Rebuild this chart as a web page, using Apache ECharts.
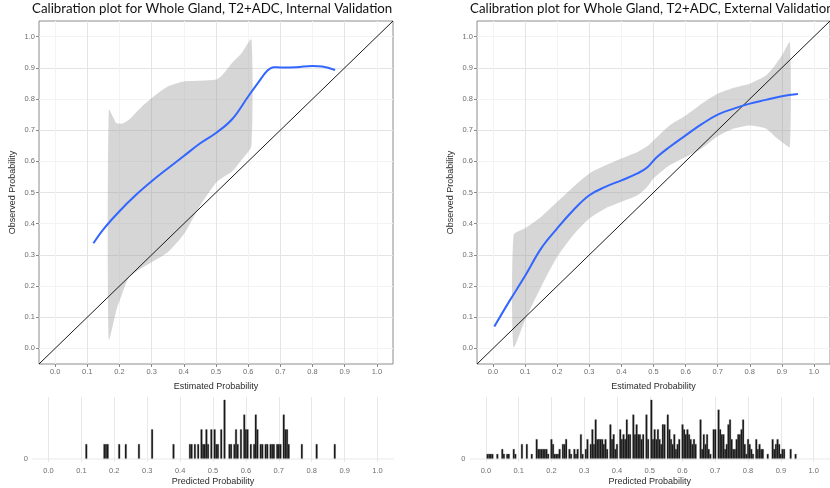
<!DOCTYPE html>
<html>
<head>
<meta charset="utf-8">
<script src="https://cdn.jsdelivr.net/npm/echarts@6/dist/echarts.min.js"></script>
<style>
  html, body { margin: 0; padding: 0; background: #fff; }
  #chart { width: 830px; height: 488px; }
</style>
</head>
<body>
<div id="chart"></div>
<script>
// tick labels shared by all panels
var probTicks = [0, 0.1, 0.2, 0.3, 0.4, 0.5, 0.6, 0.7, 0.8, 0.9, 1.0];
var refLine = [[-0.05, -0.05], [1.05, 1.05]];

// internal validation: smoothed calibration curve + confidence band
var intCurveX = [0.119, 0.15, 0.2, 0.25, 0.3, 0.35, 0.4, 0.45, 0.5, 0.55, 0.6, 0.63, 0.66, 0.68, 0.7, 0.75, 0.8, 0.83, 0.87];
var intCurveY = [0.337, 0.382, 0.44, 0.491, 0.536, 0.577, 0.617, 0.657, 0.691, 0.735, 0.808, 0.851, 0.891, 0.902, 0.901, 0.902, 0.906, 0.904, 0.893];
var intBandX = [0.167, 0.19, 0.21, 0.23, 0.27, 0.3, 0.35, 0.4, 0.45, 0.5, 0.52, 0.55, 0.58, 0.61];
var intBandLo = [0.028, 0.121, 0.18, 0.228, 0.258, 0.276, 0.308, 0.366, 0.457, 0.531, 0.547, 0.567, 0.605, 0.649];
var intBandHi = [0.766, 0.723, 0.721, 0.734, 0.776, 0.803, 0.84, 0.856, 0.858, 0.862, 0.877, 0.915, 0.947, 0.991];

// external validation
var extCurveX = [0.004, 0.05, 0.1, 0.15, 0.2, 0.25, 0.3, 0.35, 0.4, 0.45, 0.48, 0.51, 0.55, 0.6, 0.65, 0.7, 0.75, 0.8, 0.85, 0.9, 0.95];
var extCurveY = [0.07, 0.15, 0.233, 0.321, 0.385, 0.443, 0.491, 0.518, 0.539, 0.561, 0.58, 0.613, 0.646, 0.683, 0.719, 0.75, 0.769, 0.785, 0.797, 0.809, 0.816];
var extBandX = [0.064, 0.1, 0.15, 0.2, 0.25, 0.3, 0.35, 0.4, 0.45, 0.48, 0.5, 0.55, 0.6, 0.65, 0.7, 0.75, 0.8, 0.85, 0.88, 0.9, 0.925];
var extBandLo = [0.004, 0.092, 0.198, 0.294, 0.364, 0.417, 0.449, 0.47, 0.491, 0.518, 0.545, 0.587, 0.614, 0.641, 0.68, 0.705, 0.715, 0.705, 0.678, 0.662, 0.646];
var extBandHi = [0.364, 0.385, 0.422, 0.47, 0.518, 0.561, 0.587, 0.609, 0.63, 0.648, 0.667, 0.715, 0.747, 0.785, 0.817, 0.836, 0.849, 0.875, 0.91, 0.939, 0.982];

// histograms of predicted probability (bin centre, count), bin width 0.005
var binWidth = 0.005;
var intHistBins = [0.115, 0.17, 0.175, 0.18, 0.215, 0.235, 0.275, 0.315, 0.38, 0.43, 0.435, 0.445, 0.455, 0.465, 0.47, 0.475, 0.48, 0.485, 0.495, 0.505, 0.51, 0.515, 0.525, 0.535, 0.55, 0.555, 0.565, 0.57, 0.575, 0.585, 0.595, 0.6, 0.605, 0.615, 0.625, 0.63, 0.635, 0.645, 0.65, 0.66, 0.665, 0.675, 0.68, 0.685, 0.695, 0.7, 0.705, 0.715, 0.72, 0.725, 0.73, 0.77, 0.815, 0.87];
var intHistCounts = [1, 1, 1, 1, 1, 1, 1, 2, 1, 1, 1, 1, 1, 2, 1, 1, 2, 1, 2, 2, 1, 1, 2, 4, 1, 1, 1, 2, 1, 2, 3, 2, 2, 1, 1, 3, 2, 1, 1, 1, 1, 1, 1, 1, 1, 1, 1, 3, 2, 2, 1, 1, 1, 1];
var extHistBins = [0.005, 0.01, 0.015, 0.02, 0.035, 0.05, 0.055, 0.065, 0.07, 0.085, 0.09, 0.11, 0.125, 0.14, 0.155, 0.16, 0.165, 0.17, 0.175, 0.18, 0.185, 0.19, 0.2, 0.205, 0.21, 0.215, 0.22, 0.225, 0.235, 0.24, 0.245, 0.255, 0.26, 0.27, 0.275, 0.28, 0.29, 0.295, 0.305, 0.31, 0.32, 0.325, 0.33, 0.335, 0.34, 0.345, 0.35, 0.355, 0.36, 0.365, 0.37, 0.38, 0.385, 0.39, 0.395, 0.4, 0.41, 0.415, 0.42, 0.425, 0.43, 0.435, 0.44, 0.45, 0.455, 0.46, 0.465, 0.47, 0.475, 0.48, 0.49, 0.495, 0.505, 0.51, 0.515, 0.52, 0.525, 0.53, 0.535, 0.54, 0.545, 0.555, 0.56, 0.565, 0.57, 0.575, 0.58, 0.585, 0.59, 0.6, 0.605, 0.61, 0.615, 0.62, 0.625, 0.63, 0.635, 0.64, 0.655, 0.66, 0.665, 0.67, 0.675, 0.68, 0.685, 0.695, 0.7, 0.71, 0.715, 0.72, 0.725, 0.73, 0.735, 0.74, 0.745, 0.75, 0.755, 0.76, 0.765, 0.77, 0.775, 0.78, 0.785, 0.79, 0.795, 0.8, 0.805, 0.81, 0.815, 0.825, 0.83, 0.835, 0.84, 0.845, 0.86, 0.875, 0.88, 0.885, 0.89, 0.895, 0.9, 0.905, 0.91, 0.93, 0.945];
var extHistCounts = [1, 1, 1, 1, 1, 2, 1, 1, 1, 2, 1, 3, 3, 1, 4, 2, 2, 2, 2, 2, 2, 1, 4, 3, 1, 1, 1, 2, 3, 3, 4, 2, 1, 2, 1, 2, 5, 1, 2, 4, 3, 6, 3, 8, 4, 4, 4, 4, 3, 4, 2, 7, 4, 5, 2, 3, 6, 4, 5, 4, 8, 5, 5, 9, 5, 7, 5, 5, 4, 5, 9, 4, 12, 4, 6, 4, 6, 4, 3, 7, 7, 9, 6, 4, 3, 5, 2, 3, 4, 7, 6, 5, 6, 5, 4, 3, 4, 3, 8, 2, 5, 3, 5, 2, 1, 6, 6, 10, 6, 5, 5, 2, 3, 7, 8, 4, 2, 2, 4, 5, 5, 6, 8, 3, 1, 4, 3, 2, 1, 4, 2, 3, 2, 2, 1, 4, 2, 3, 4, 3, 1, 2, 2, 2, 1];

function zip(xs, ys) {
    return xs.map(function (x, i) { return [x, ys[i]]; });
}
function fmtTick(v) {
    return v.toFixed(1);
}

var tickFont = { fontFamily: 'Liberation Sans', fontSize: 7.5, color: '#6e6e6e' };
var nameFont = { fontFamily: 'Liberation Sans', fontSize: 9, color: '#2b2b2b' };

function mainX(gi) {
    return {
        type: 'value', gridIndex: gi, min: -0.05, max: 1.05, interval: 0.05,
        name: 'Estimated Probability', nameLocation: 'middle', nameGap: 18, nameTextStyle: nameFont,
        axisLine: { show: false, onZero: false },
        axisTick: { show: true, customValues: probTicks, length: 3, lineStyle: { color: '#888' } },
        axisLabel: Object.assign({ customValues: probTicks, formatter: fmtTick, margin: 4 }, tickFont),
        splitLine: { show: true, lineStyle: { color: ['#f3f3f3', '#e4e4e4'], width: 1 } }
    };
}
function mainY(gi) {
    return {
        type: 'value', gridIndex: gi, min: -0.05, max: 1.05, interval: 0.05,
        name: 'Observed Probability', nameLocation: 'middle', nameGap: 22, nameTextStyle: nameFont,
        axisLine: { show: false, onZero: false },
        axisTick: { show: true, customValues: probTicks, length: 3, lineStyle: { color: '#888' } },
        axisLabel: Object.assign({ customValues: probTicks, formatter: fmtTick, margin: 4 }, tickFont),
        splitLine: { show: true, lineStyle: { color: ['#f3f3f3', '#e4e4e4'], width: 1 } }
    };
}
function histX(gi) {
    return {
        type: 'value', gridIndex: gi, min: -0.05, max: 1.05, interval: 0.05,
        name: 'Predicted Probability', nameLocation: 'middle', nameGap: 15, nameTextStyle: nameFont,
        axisLine: { show: false, onZero: false },
        axisTick: { show: false },
        axisLabel: Object.assign({ customValues: probTicks, formatter: fmtTick, margin: 5 }, tickFont),
        splitLine: { show: true, lineStyle: { color: ['rgba(0,0,0,0)', '#e8e8e8'], width: 1 } }
    };
}
function histY(gi, max) {
    return {
        type: 'value', gridIndex: gi, min: -max * 0.05, max: max * 1.05,
        axisLine: { show: false, onZero: false }, axisTick: { show: false }, splitLine: { show: false },
        axisLabel: Object.assign({ customValues: [0], margin: 4 }, tickFont)
    };
}

// confidence band: one polygon through the upper bound and back along the lower bound
function bandSeries(gi, xs, lo, hi) {
    return {
        type: 'custom', xAxisIndex: gi, yAxisIndex: gi, silent: true,
        data: zip(xs, hi),
        renderItem: function (params, api) {
            if (params.dataIndex !== 0) return null;
            var pts = [];
            for (var i = 0; i < xs.length; i++) pts.push(api.coord([xs[i], hi[i]]));
            for (var j = xs.length - 1; j >= 0; j--) pts.push(api.coord([xs[j], lo[j]]));
            return {
                type: 'polygon',
                shape: { points: pts, smooth: 0.2 },
                style: { fill: 'rgba(153,153,153,0.4)' }
            };
        }
    };
}
function refSeries(gi) {
    return {
        type: 'line', xAxisIndex: gi, yAxisIndex: gi, data: refLine, symbol: 'none', silent: true,
        lineStyle: { color: '#1a1a1a', width: 1 }
    };
}
function curveSeries(gi, xs, ys) {
    return {
        type: 'line', xAxisIndex: gi, yAxisIndex: gi, data: zip(xs, ys), smooth: 0.4,
        symbol: 'none', silent: true, lineStyle: { color: '#3366FF', width: 2 }
    };
}
function histSeries(gi, bins, counts) {
    return [{
        type: 'line', xAxisIndex: gi, yAxisIndex: gi, data: [[-0.05, 0], [1.05, 0]], symbol: 'none',
        silent: true, lineStyle: { color: '#e8e8e8', width: 1 }
    }, {
        type: 'custom', xAxisIndex: gi, yAxisIndex: gi, data: zip(bins, counts), silent: true,
        renderItem: function (params, api) {
            var x = api.value(0), c = api.value(1);
            var p0 = api.coord([x - binWidth / 2, c]);
            var p1 = api.coord([x + binWidth / 2, 0]);
            return {
                type: 'rect',
                shape: { x: p0[0], y: p0[1], width: p1[0] - p0[0], height: p1[1] - p0[1] },
                style: { fill: '#111111', stroke: 'rgba(90,90,90,0.8)', lineWidth: 0.4 }
            };
        }
    }];
}

var titleFont = { fontFamily: 'Lato', fontSize: 13.3, fontWeight: 'normal', color: '#111' };

var chart = echarts.init(document.getElementById('chart'), null, { renderer: 'canvas' });
chart.setOption({
    animation: false,
    backgroundColor: '#fff',
    title: [
        { text: 'Calibration plot for Whole Gland, T2+ADC, Internal Validation', left: 32, top: 2, padding: 0, textStyle: titleFont },
        { text: 'Calibration plot for Whole Gland, T2+ADC, External Validation', left: 470, top: 2, padding: 0, textStyle: titleFont }
    ],
    grid: [
        { left: 39, top: 21, width: 354, height: 343, show: true, borderColor: '#8c8c8c', borderWidth: 1, backgroundColor: 'transparent' },
        { left: 477, top: 21, width: 354, height: 343, show: true, borderColor: '#8c8c8c', borderWidth: 1, backgroundColor: 'transparent' },
        { left: 32, top: 397, width: 362, height: 65 },
        { left: 469.5, top: 397, width: 362, height: 65 }
    ],
    xAxis: [mainX(0), mainX(1), histX(2), histX(3)],
    yAxis: [mainY(0), mainY(1), histY(2, 4), histY(3, 12)],
    series: [].concat(
        [bandSeries(0, intBandX, intBandLo, intBandHi), refSeries(0), curveSeries(0, intCurveX, intCurveY)],
        [bandSeries(1, extBandX, extBandLo, extBandHi), refSeries(1), curveSeries(1, extCurveX, extCurveY)],
        histSeries(2, intHistBins, intHistCounts),
        histSeries(3, extHistBins, extHistCounts)
    )
});
</script>
</body>
</html>
